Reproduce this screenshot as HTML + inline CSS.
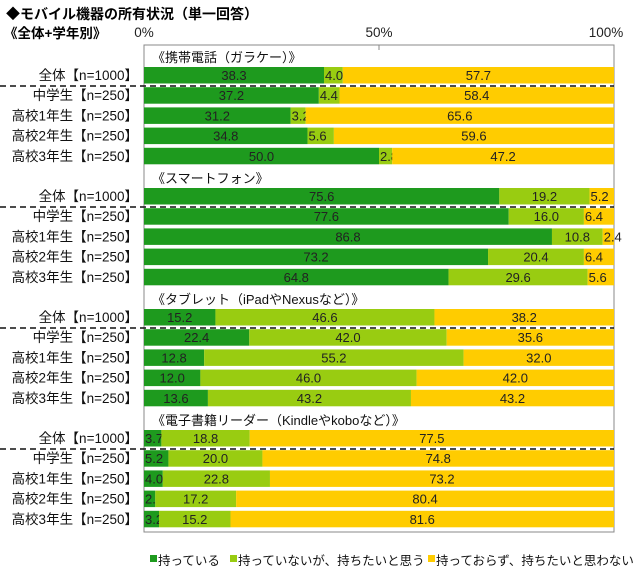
<!DOCTYPE html>
<html><head><meta charset="utf-8"><style>
body{margin:0;background:#fff;font-family:"Liberation Sans","Noto Sans CJK JP",sans-serif;}
svg text{font-family:"Liberation Sans","Noto Sans CJK JP",sans-serif;}
</style></head><body>
<svg id="c" width="640" height="582" xmlns="http://www.w3.org/2000/svg">
<text x="6" y="19" font-size="14" font-weight="bold">◆モバイル機器の所有状況（単一回答）</text>
<text x="4" y="38" font-size="13.5" font-weight="bold">《全体+学年別》</text>
<rect x="144" y="45" width="470" height="487" fill="#fff" stroke="#888"/>
<g id="g"></g>
</svg>
<script>
const sections=["《携帯電話（ガラケー）》","《スマートフォン》","《タブレット（iPadやNexusなど）》","《電子書籍リーダー（Kindleやkoboなど）》"];
const rowLabels=["全体【n=1000】","中学生【n=250】","高校1年生【n=250】","高校2年生【n=250】","高校3年生【n=250】"];
const own=[[38.3,37.2,31.2,34.8,50.0],[75.6,77.6,86.8,73.2,64.8],[15.2,22.4,12.8,12.0,13.6],[3.7,5.2,4.0,2.4,3.2]];
const want=[[4.0,4.4,3.2,5.6,2.8],[19.2,16.0,10.8,20.4,29.6],[46.6,42.0,55.2,46.0,43.2],[18.8,20.0,22.8,17.2,15.2]];
const notWant=[[57.7,58.4,65.6,59.6,47.2],[5.2,6.4,2.4,6.4,5.6],[38.2,35.6,32.0,42.0,43.2],[77.5,74.8,73.2,80.4,81.6]];
const ticks=[0,50,100];
const tickLabels=["0%","50%","100%"];
const legendLabels=["持っている","持っていないが、持ちたいと思う","持っておらず、持ちたいと思わない"];
const colors=["#1e9a1e","#99cc11","#ffcc00"];
const X0=144,X1=614;
const xs=v=>X0+(X1-X0)*v/100;
const NS="http://www.w3.org/2000/svg";
const g=document.getElementById('g');
function mk(t,a,txt){const e=document.createElementNS(NS,t);for(const k in a)e.setAttribute(k,a[k]);if(txt!==undefined)e.textContent=txt;g.appendChild(e);return e;}
ticks.forEach((t,i)=>{
 const e=mk('text',{x:xs(t)+(i==2?-8:0),y:37,'font-size':13.5,'text-anchor':'middle',fill:'#222'},tickLabels[i]);
 
 
 const l=mk('line',{x1:xs(t),x2:xs(t),y1:45,y2:50,stroke:'#888'});
 
 
});
const secTop=[45,166,287,408];
sections.forEach((s,si)=>{
 const top=secTop[si];
 const h=mk('text',{x:152,y:top+17,'font-size':13,fill:'#111'},s);
 
 
 rowLabels.forEach((r,ri)=>{
  const y=top+22+ri*20.2;
  const lb=mk('text',{x:138,y:y+13,'font-size':13.5,'text-anchor':'end',fill:'#111'},r);
  
  
  const vals=[own[si][ri],want[si][ri],notWant[si][ri]];
  let acc=0;
  vals.forEach((v,k)=>{
   const b=mk('rect',{x:xs(acc),y:y,width:xs(acc+v)-xs(acc),height:16.5,fill:colors[k]});
   
   
   let tx=xs(acc+v/2),anc='middle';
   if(v<7){tx=xs(acc)+1;anc='start';}
   const t=mk('text',{x:tx,y:y+13,'font-size':13,'text-anchor':anc,fill:'#222'},v.toFixed(1));
   
   
   acc+=v;
  });
  if(ri==0){
   const d=mk('line',{x1:0,x2:X1,y1:y+19,y2:y+19,stroke:'#111','stroke-width':1.5,'stroke-dasharray':'6,4'});
   
   
  }
 });
});
const lx=[150,230,428];
legendLabels.forEach((l,i)=>{
 const r=mk('rect',{x:lx[i],y:555,width:7,height:7,fill:colors[i]});
 
 
 const t=mk('text',{x:lx[i]+8,y:565,'font-size':12.5,fill:'#111'},l);
 
 
});
</script>
</body></html>
